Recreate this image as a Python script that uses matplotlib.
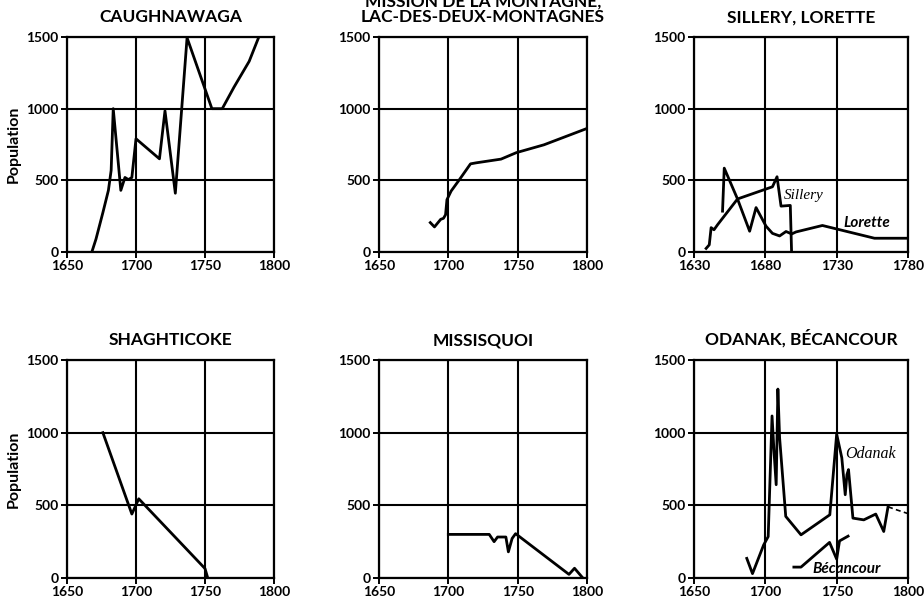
import matplotlib
matplotlib.use("Agg")
from matplotlib import pyplot as plt

plt.rcParams["font.family"] = ["Lato", "DejaVu Sans"]
plt.rcParams["font.weight"] = "bold"

# ----------------------------------------------------------------------------
# Data (year, population)
# ----------------------------------------------------------------------------
caugh_years = [1668, 1671, 1676, 1680, 1682, 1683.5, 1689, 1692, 1694.5, 1697,
               1700, 1717, 1721, 1728.5, 1737, 1749, 1755, 1762.5, 1771, 1782, 1789]
caugh_pop = [0, 90, 275, 430, 570, 1000, 430, 520, 505, 520,
             790, 650, 985, 410, 1495, 1165, 1000, 1000, 1150, 1330, 1500]

mission_years = [1687, 1690, 1694.5, 1696.5, 1698, 1699, 1702, 1708, 1716,
                 1720, 1738, 1749, 1769, 1800]
mission_pop = [205, 175, 228, 235, 260, 365, 425, 505, 615,
               622, 648, 693, 748, 862]

sillery_years = [1638.5, 1640.7, 1642, 1644, 1646.5, 1660.5, 1685, 1688.2,
                 1691, 1697.5, 1698.4]
sillery_pop = [25, 50, 170, 155, 190, 370, 455, 525, 320, 325, 0]

lorette_years = [1650, 1651.2, 1660.5, 1669, 1673.5, 1680.5, 1685, 1690,
                 1694.5, 1698.5, 1701.5, 1720, 1756.5, 1780]
lorette_pop = [285, 585, 370, 145, 310, 180, 130, 112,
               143, 126, 140, 185, 96, 96]

shagh_years = [1676, 1697, 1702, 1750, 1752]
shagh_pop = [1000, 440, 545, 65, 0]

missis_years = [1700, 1729.5, 1733, 1735.5, 1741.5, 1743.3, 1746, 1748.5,
                1787, 1791, 1797]
missis_pop = [300, 300, 250, 282, 282, 180, 272, 305,
              25, 67, 0]

odanak_years = [1687, 1691, 1698.8, 1702, 1704.7, 1706, 1707.6, 1708.8, 1710,
                1714.3, 1725, 1745.2, 1750, 1753.6, 1756, 1757.2, 1758.3,
                1761.4, 1769, 1777.4, 1783, 1786]
odanak_pop = [135, 30, 227, 285, 1115, 884, 642, 1300, 965,
              424, 297, 435, 990, 827, 573, 711, 746,
              412, 400, 440, 320, 490]
odanak_dash_years = [1786, 1792, 1801]
odanak_dash_pop = [490, 469, 440]

becan_years = [1720, 1725, 1745, 1750, 1752, 1758]
becan_pop = [75, 75, 245, 130, 255, 288]

ticks_y = [0, 500, 1000, 1500]
ticks_x = [1650, 1700, 1750, 1800]
ticks_x_sillery = [1630, 1680, 1730, 1780]

# ----------------------------------------------------------------------------
# Layout
# ----------------------------------------------------------------------------
W, H = 924, 609
fig = plt.figure(figsize=(W / 100, H / 100), dpi=100)

cols = [(67, 207), (379, 208), (694, 214)]   # left px, width px
rows = [(37, 215), (360, 218)]                # top px, height px

SERIF = ["Liberation Serif", "DejaVu Serif"]


def make_ax(r, c):
    left, width = cols[c]
    top, height = rows[r]
    return fig.add_axes([left / W, 1 - (top + height) / H, width / W, height / H])


def style(ax, xticks, title, ylabel=False):
    ax.set_xlim(xticks[0], xticks[-1])
    ax.set_ylim(0, 1500)
    ax.set_xticks(xticks)
    ax.set_yticks(ticks_y)
    ax.grid(True, color="black", linewidth=1.5)
    ax.set_axisbelow(True)
    for sp in ax.spines.values():
        sp.set_linewidth(1.6)
    ax.tick_params(direction="out", length=4, width=1.4, labelsize=10, pad=2)
    for lab in ax.get_xticklabels() + ax.get_yticklabels():
        lab.set_fontweight("bold")
    ax.text(0.5, 1.055, title, transform=ax.transAxes, ha="center", va="bottom",
            fontsize=12.5, fontweight="bold", linespacing=0.95)
    if ylabel:
        ax.set_ylabel("Population", fontsize=11.5, fontweight="bold", labelpad=4)


LW = 2.0

ax = make_ax(0, 0)
ax.plot(caugh_years, caugh_pop, color="black", lw=LW)
style(ax, ticks_x, "CAUGHNAWAGA", ylabel=True)

ax = make_ax(0, 1)
ax.plot(mission_years, mission_pop, color="black", lw=LW)
style(ax, ticks_x, "MISSION DE LA MONTAGNE,\nLAC-DES-DEUX-MONTAGNES")

ax = make_ax(0, 2)
ax.plot(sillery_years, sillery_pop, color="black", lw=LW)
ax.plot(lorette_years, lorette_pop, color="black", lw=LW)
ax.text(1693, 395, "Sillery", fontsize=11, style="italic", fontweight="normal",
        family=SERIF, ha="left", va="center")
ax.text(1735, 205, "Lorette", fontsize=11, style="italic", fontweight="bold",
        ha="left", va="center")
style(ax, ticks_x_sillery, "SILLERY, LORETTE")

ax = make_ax(1, 0)
ax.plot(shagh_years, shagh_pop, color="black", lw=LW)
style(ax, ticks_x, "SHAGHTICOKE", ylabel=True)

ax = make_ax(1, 1)
ax.plot(missis_years, missis_pop, color="black", lw=LW)
style(ax, ticks_x, "MISSISQUOI")

ax = make_ax(1, 2)
ax.plot(odanak_years, odanak_pop, color="black", lw=LW)
ax.plot(odanak_dash_years, odanak_dash_pop, color="black", lw=1.2,
        linestyle=(0, (3, 2)), clip_on=False)
ax.plot(becan_years, becan_pop, color="black", lw=LW)
ax.text(1756, 850, "Odanak", fontsize=11.5, style="italic", fontweight="normal",
        family=SERIF, ha="left", va="center")
ax.text(1733, 60, "Bécancour", fontsize=11, style="italic", fontweight="bold",
        ha="left", va="center")
style(ax, ticks_x, "ODANAK, BÉCANCOUR")

fig.savefig("out.png", dpi=100)
